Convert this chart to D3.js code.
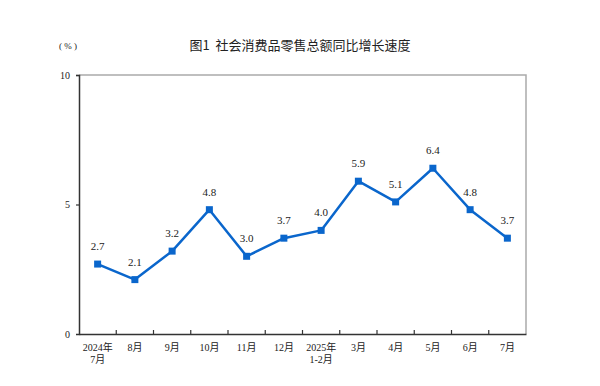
<!DOCTYPE html>
<html>
<head>
<meta charset="utf-8">
<script src="https://cdn.jsdelivr.net/npm/d3@7"></script>
<style>
  body { margin: 0; background: #fff; }
  svg text { font-family: "Liberation Serif", "Noto Sans CJK SC", serif; fill: #222; }
</style>
</head>
<body>
<div class="svgHolder"></div>
<script>
const wd = 600
const ht = 386

// data
const months = ["2024年\n7月", "8月", "9月", "10月", "11月", "12月", "2025年\n1-2月", "3月", "4月", "5月", "6月", "7月"]
const growth = [2.7, 2.1, 3.2, 4.8, 3.0, 3.7, 4.0, 5.9, 5.1, 6.4, 4.8, 3.7]
const yTicks = [0, 5, 10]

const margin = {left: 79, right: 74, top: 75, bottom: 52}

const svg = d3.select(".svgHolder").append("svg")
  .attr("width", wd)
  .attr("height", ht)

const x = d3.scaleBand()
  .domain(months)
  .range([margin.left, wd - margin.right])

const y = d3.scaleLinear()
  .domain([0, 10])
  .range([ht - margin.bottom, margin.top])

// frame (top + right, light gray)
svg.append("path")
  .attr("d", `M${margin.left},${y(10)}H${wd - margin.right}V${y(0)}`)
  .attr("fill", "none")
  .style("stroke", "#aaa")
  .style("stroke-width", "1.5px")

// title
svg.append("text")
  .attr("x", 300)
  .attr("y", 50)
  .attr("text-anchor", "middle")
  .style("font-family", "'Noto Sans CJK SC', sans-serif")
  .style("font-size", "13px")
  .style("font-weight", "400")
  .style("white-space", "pre")
  .text("图1  社会消费品零售总额同比增长速度")

svg.append("text")
  .attr("x", 68)
  .attr("y", 49)
  .attr("text-anchor", "middle")
  .style("font-size", "9px")
  .style("white-space", "pre")
  .text("( % )")

// y axis
const yAxis = svg.append("g")
  .attr("transform", `translate(${margin.left},0)`)
  .call(d3.axisLeft(y).tickValues(yTicks).tickSize(3).tickPadding(6))
yAxis.select(".domain").style("stroke", "#333").style("stroke-width", "1.5px")
yAxis.selectAll(".tick line").style("stroke", "#333").style("stroke-width", "1.2px")
yAxis.selectAll(".tick text")
  .style("font-family", "'Liberation Serif', serif")
  .style("font-size", "10px")
  .attr("fill", "#222")
yAxis.selectAll(".tick").filter(d => d === 0).select("line").remove()

// x axis
const xAxis = svg.append("g")
  .attr("transform", `translate(0,${y(0)})`)
  .call(d3.axisBottom(x).tickSize(0).tickPadding(8))
xAxis.select(".domain").style("stroke", "#333").style("stroke-width", "1.5px")
xAxis.selectAll(".tick text").remove()

// inner ticks at band boundaries
xAxis.selectAll(".bnd")
  .data(months.slice(1))
  .enter()
  .append("line")
  .attr("x1", d => x(d))
  .attr("x2", d => x(d))
  .attr("y1", 0)
  .attr("y2", -4)
  .style("stroke", "#333")
  .style("stroke-width", "1.2px")

xAxis.selectAll(".lbl")
  .data(months)
  .enter()
  .append("text")
  .attr("text-anchor", "middle")
  .attr("transform", d => `translate(${x(d) + x.bandwidth() / 2},0)`)
  .style("font-size", "10px")
  .each(function(d) {
    const parts = d.split("\n")
    parts.forEach((p, i) => {
      d3.select(this).append("tspan")
        .attr("x", 0)
        .attr("y", 17 + i * 12)
        .text(p)
    })
  })

// line
const cx = (d, i) => x(months[i]) + x.bandwidth() / 2

const lineFunc = d3.line()
  .x((d, i) => cx(d, i))
  .y(d => y(d))

svg.append("path")
  .attr("d", lineFunc(growth))
  .attr("fill", "none")
  .style("stroke", "#0a66cc")
  .style("stroke-width", "2.5px")
  .style("stroke-linejoin", "round")

svg.append("g").selectAll("rect")
  .data(growth)
  .enter()
  .append("rect")
  .attr("x", (d, i) => cx(d, i) - 3.5)
  .attr("y", d => y(d) - 3.5)
  .attr("width", 7)
  .attr("height", 7)
  .attr("fill", "#0a66cc")

svg.append("g").selectAll("text")
  .data(growth)
  .enter()
  .append("text")
  .attr("x", (d, i) => cx(d, i))
  .attr("y", d => y(d) - 14)
  .attr("text-anchor", "middle")
  .style("font-size", "11px")
  .text(d => d.toFixed(1))
</script>
</body>
</html>
